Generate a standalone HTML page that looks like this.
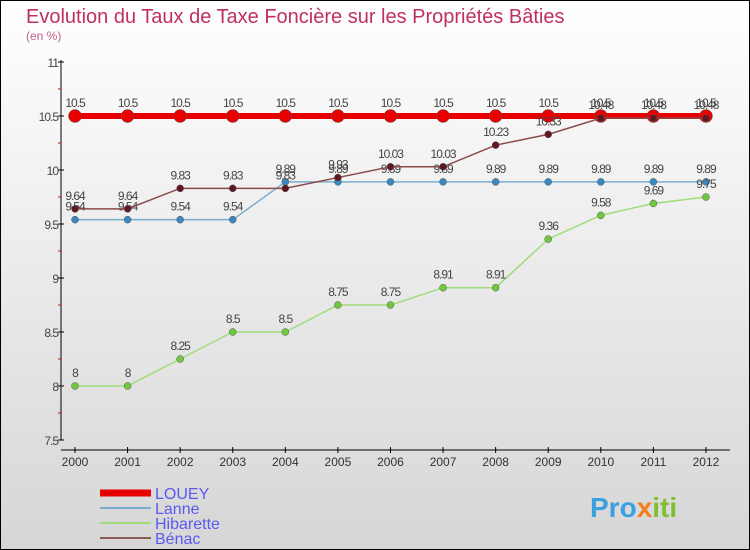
<!DOCTYPE html>
<html><head><meta charset="utf-8"><style>
body{margin:0}
#c{width:750px;height:550px;position:relative;background:linear-gradient(#fff,#d6d6d6);box-sizing:border-box;border:1px solid #000;overflow:hidden;font-family:"Liberation Sans",sans-serif}
</style></head><body>
<div id="c">
<svg id="s" width="750" height="550" style="position:absolute;left:-1px;top:-1px">
<text x="26" y="23" font-size="20" fill="#c0305c">Evolution du Taux de Taxe Foncière sur les Propriétés Bâties</text>
<text x="26" y="40" font-size="12" fill="#c0608a">(en %)</text>
<g id="g"></g>
<text x="590" y="517" font-size="28" font-weight="bold" fill="#3aa0e0">Pro<tspan fill="#f08020">x</tspan><tspan fill="#80c030">iti</tspan></text>
</svg>
</div>
<script>
const years=[2000,2001,2002,2003,2004,2005,2006,2007,2008,2009,2010,2011,2012];
const yTicks=[7.5,8,8.5,9,9.5,10,10.5,11];
const louey=[10.5,10.5,10.5,10.5,10.5,10.5,10.5,10.5,10.5,10.5,10.5,10.5,10.5];
const lanne=[9.54,9.54,9.54,9.54,9.89,9.89,9.89,9.89,9.89,9.89,9.89,9.89,9.89];
const hibarette=[8,8,8.25,8.5,8.5,8.75,8.75,8.91,8.91,9.36,9.58,9.69,9.75];
const benac=[9.64,9.64,9.83,9.83,9.83,9.93,10.03,10.03,10.23,10.33,10.48,10.48,10.48];
const NS="http://www.w3.org/2000/svg";
const g=document.getElementById('g');
const X=i=>75+i*52.58, Y=v=>440-(v-7.5)*108;
function el(t,a,n){const e=document.createElementNS(NS,t);for(const k in a)e.setAttribute(k,a[k]);


g.appendChild(e);return e;}
el('line',{x1:61,y1:60,x2:61,y2:440,stroke:'#000'},'y-axis');
el('line',{x1:61,y1:450,x2:730,y2:450,stroke:'#000'},'x-axis');
yTicks.forEach(v=>{el('line',{x1:58,x2:64,y1:Y(v),y2:Y(v),stroke:'#000'},'y-tick');
if(v<11)el('line',{x1:58,x2:61,y1:Y(v+0.25),y2:Y(v+0.25),stroke:'#e00'},'y-minor-tick');
const t=el('text',{x:58,y:Y(v)+5,'text-anchor':'end','font-size':12,fill:'#444','letter-spacing':'-1'},'y-tick-label');t.textContent=v;});
years.forEach((y,i)=>{el('line',{x1:X(i),x2:X(i),y1:447,y2:453,stroke:'#000'},'x-tick');
const t=el('text',{x:X(i),y:466,'text-anchor':'middle','font-size':12,fill:'#333'},'x-tick-label');t.textContent=y;});
const series=[[lanne,'#7aaed0','#3a88c0',1.5,3.5,'lanne'],[hibarette,'#a0dc78','#70c840',1.5,3.5,'hibarette'],[louey,'#e80000','#e80000',6,6.5,'louey'],[benac,'#8a4a4a','#601820',1.5,3.5,'benac']];
series.forEach(([d,c,f,w,r,n])=>{
el('polyline',{points:d.map((v,i)=>X(i)+','+Y(v)).join(' '),fill:'none',stroke:c,'stroke-width':w},n+'-line');
d.forEach((v,i)=>{el('circle',{cx:X(i),cy:Y(v),r:r,fill:f,stroke:'#555','stroke-width':0.5},n+'-point');
const t=el('text',{x:X(i),y:Y(v)-9,'text-anchor':'middle','font-size':12,fill:'#444','letter-spacing':'-1'},n+'-value-label');t.textContent=v;});
});
const leg=[['LOUEY','#e80000',7],['Lanne','#7aaed0',2],['Hibarette','#a0dc78',2],['Bénac','#8a5a5a',2]];
leg.forEach(([n,c,w],k)=>{const y=493+k*15;
el('line',{x1:100,x2:151,y1:y,y2:y,stroke:c,'stroke-width':w},'legend-swatch');
const t=el('text',{x:155,y:y+6,'font-size':16,fill:'#5a5af0'},'legend-entry');t.textContent=n;});
</script>
</body></html>
